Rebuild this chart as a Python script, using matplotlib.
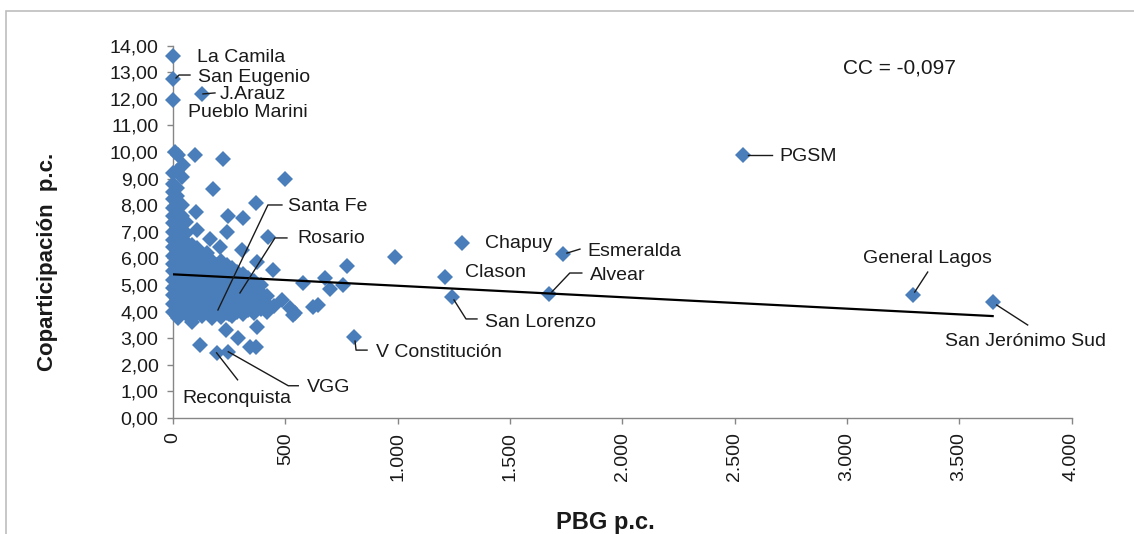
import numpy as np
import matplotlib
matplotlib.use("Agg")
import matplotlib.pyplot as plt
from matplotlib.patches import Rectangle
from matplotlib.ticker import FuncFormatter, MultipleLocator

plt.rcParams['font.family'] = ['Liberation Sans', 'DejaVu Sans']

# Named municipalities: PBG per capita (x) and coparticipación per capita (y)
named = ["La Camila", "San Eugenio", "J.Arauz", "Pueblo Marini", "Santa Fe",
         "Rosario", "Reconquista", "VGG", "V Constitución", "San Lorenzo",
         "Clason", "Chapuy", "Esmeralda", "Alvear", "PGSM", "General Lagos",
         "San Jerónimo Sud"]
named_pbg = [0, 0, 129, 0, 200, 298, 194, 246, 806, 1242, 1210, 1286, 1736,
             1673, 2537, 3293, 3649]
named_copa = [13.60, 12.74, 12.18, 11.95, 4.06, 4.70, 2.45, 2.49, 3.04, 4.55,
              5.30, 6.58, 6.16, 4.66, 9.88, 4.62, 4.36]

# Remaining municipalities, isolated ones first
scatter_pbg = [9, 22, 98, 223, 499, 178, 370, 245, 312, 240, 107, 165, 209,
               307, 423, 102, 45, 40, 989, 775, 677, 579, 699, 757, 445, 374,
               623, 646, 543, 486, 521, 535, 120, 236, 290, 343, 370, 374, 22,
               85, 174, 250]
scatter_copa = [10.00, 9.88, 9.88, 9.73, 8.98, 8.61, 8.08, 7.59, 7.52, 6.99,
                7.07, 6.73, 6.43, 6.31, 6.80, 7.74, 9.51, 9.06, 6.05, 5.71,
                5.26, 5.07, 4.85, 5.00, 5.56, 5.86, 4.17, 4.25, 3.95, 4.43,
                4.13, 3.87, 2.74, 3.31, 3.01, 2.67, 2.67, 3.42, 3.76, 3.61,
                3.76, 3.92]

# Dense core of small municipalities, read strip by strip (PBG, coparticipación values)
core_strips = [
    (0,   [4.00, 4.30, 4.62, 4.90, 5.20, 5.52, 5.80, 6.10, 6.42, 6.70, 7.00,
           7.32, 7.60, 7.90, 8.22, 8.50, 8.80, 9.20]),
    (20,  [3.85, 4.15, 4.45, 4.75, 5.05, 5.35, 5.65, 5.95, 6.25, 6.55, 6.85,
           7.15, 7.45, 7.75, 8.05, 8.35, 8.65, 9.30]),
    (40,  [4.00, 4.30, 4.60, 4.90, 5.20, 5.50, 5.80, 6.10, 6.40, 6.70, 7.00,
           7.30, 7.60, 8.00]),
    (60,  [3.90, 4.20, 4.50, 4.80, 5.10, 5.40, 5.70, 6.00, 6.30, 6.60, 6.95,
           7.35]),
    (85,  [4.05, 4.35, 4.65, 4.95, 5.25, 5.55, 5.85, 6.15, 6.50]),
    (107, [3.95, 4.25, 4.55, 4.85, 5.15, 5.45, 5.75, 6.05, 6.40]),
    (130, [3.85, 4.15, 4.45, 4.75, 5.05, 5.35, 5.65, 5.95]),
    (150, [4.00, 4.30, 4.60, 4.90, 5.20, 5.50, 5.80, 6.20]),
    (174, [4.10, 4.40, 4.70, 5.00, 5.30, 5.60, 5.90]),
    (195, [3.95, 4.25, 4.55, 4.85, 5.15, 5.45, 5.75]),
    (215, [3.80, 4.10, 4.40, 4.70, 5.00, 5.30, 5.60, 5.90]),
    (240, [3.95, 4.25, 4.55, 4.85, 5.15, 5.45, 5.75]),
    (262, [3.85, 4.15, 4.45, 4.75, 5.05, 5.35, 5.65]),
    (285, [4.00, 4.30, 4.60, 4.90, 5.20, 5.50]),
    (310, [3.90, 4.20, 4.50, 4.80, 5.10, 5.40]),
    (335, [4.05, 4.35, 4.65, 4.95, 5.25]),
    (360, [3.95, 4.25, 4.55, 4.85, 5.15]),
    (390, [4.10, 4.40, 4.70, 5.00]),
    (420, [4.00, 4.30, 4.60]),
    (450, [4.20]),
]

# Linear trend and correlation coefficient
trend_intercept = 5.40
trend_slope = -0.00043
cc_value = -0.097

x_ticks = [0, 500, 1000, 1500, 2000, 2500, 3000, 3500, 4000]

# ---------------------------------------------------------------------------
core_pbg = [x for x, ys in core_strips for _ in ys]
core_copa = [y for _, ys in core_strips for y in ys]

all_pbg = np.array(named_pbg + scatter_pbg + core_pbg, dtype=float)
all_copa = np.array(named_copa + scatter_copa + core_copa, dtype=float)

W, H = 1134, 534
fig = plt.figure(figsize=(W / 100, H / 100), dpi=100)
fig.patch.set_facecolor("white")

# outer frame of the chart area
fig.patches.append(Rectangle((6 / W, -0.1), 1.2, 1 - 11 / H + 0.1,
                             transform=fig.transFigure, fill=False,
                             edgecolor="#bdbdbd", linewidth=1.2))

ax = fig.add_axes([173 / W, 1 - 418 / H, 898.5 / W, (418 - 45.5) / H])
ax.set_xlim(0, 4000)
ax.set_ylim(0, 14)

blue = "#4A7EBB"
ax.plot(all_pbg, all_copa, linestyle="none", marker="D", ms=8,
        color=blue, markeredgewidth=0, clip_on=False, zorder=3)

tx = np.array([0, all_pbg.max()])
ax.plot(tx, trend_intercept + trend_slope * tx, color="black", lw=1.6,
        zorder=4)

for s in ("top", "right"):
    ax.spines[s].set_visible(False)
for s in ("left", "bottom"):
    ax.spines[s].set_color("#868686")
    ax.spines[s].set_linewidth(1.0)

ax.set_xticks(x_ticks)
ax.yaxis.set_major_locator(MultipleLocator(1))
ax.xaxis.set_major_formatter(FuncFormatter(lambda v, p: f"{int(round(v)):,}".replace(",", ".")))
ax.yaxis.set_major_formatter(FuncFormatter(lambda v, p: f"{v:.2f}".replace(".", ",")))
ax.tick_params(axis="both", direction="out", length=4.0, width=1.0,
               color="#868686", labelsize=14, labelcolor="#1a1a1a")
ax.tick_params(axis="x", labelrotation=90, pad=6)
ax.tick_params(axis="y", pad=6.5)

# labels: text offset (pixels), alignment, leader polyline (pixel offsets)
label_layout = {
    "La Camila": ((24, -1), "left", None),
    "San Eugenio": ((25, 2), "left", [(3, 1), (6, 4), (17, 4)]),
    "J.Arauz": ((18, -1), "left", [(1, 0), (13, 1)]),
    "Pueblo Marini": ((15, -12), "left", None),
    "Santa Fe": ((70, 103), "left", [(0, 0), (50, 105), (64, 105)]),
    "Rosario": ((57, 54), "left", [(0, 0), (35, 55), (47, 55)]),
    "Reconquista": ((20, -46), "center", [(0, 0), (21, -27)]),
    "VGG": ((79, -36), "left", [(0, 0), (60, -34), (70, -34)]),
    "V Constitución": ((22, -15), "left", [(1, -4), (2, -13), (13, -13)]),
    "San Lorenzo": ((33, -26), "left", [(2, -3), (14, -22), (25, -22)]),
    "Clason": ((20, 4), "left", None),
    "Chapuy": ((23, -1), "left", None),
    "Esmeralda": ((24, 3), "left", [(4, 1), (17, 5)]),
    "Alvear": ((41, 19), "left", [(3, 2), (21, 21), (33, 21)]),
    "PGSM": ((37, -1), "left", [(5, 0), (29, 0)]),
    "General Lagos": ((15, 37), "center", [(2, 3), (15, 23)]),
    "San Jerónimo Sud": ((33, -40), "center", [(4, -3), (35, -23)]),
}

inv = ax.transData.inverted()
for name, px, py in zip(named, named_pbg, named_copa):
    offset, ha, leader = label_layout[name]
    base = ax.transData.transform((px, py))
    if leader:
        verts = inv.transform(np.array(leader, dtype=float) + base)
        ax.plot(verts[:, 0], verts[:, 1], color="#1a1a1a", lw=1.0,
                clip_on=False, zorder=5)
    ax.annotate(name, (px, py), xytext=offset, textcoords="offset pixels",
                ha=ha, va="center", fontsize=14, color="#1a1a1a", zorder=6)

ax.text(843 / W, 1 - 68 / H, f"CC = {cc_value:.3f}".replace(".", ","),
        transform=fig.transFigure, ha="left", va="center", fontsize=15,
        color="#1a1a1a")

fig.text(48 / W, 1 - 262 / H, "Coparticipación  p.c.", rotation=90,
         ha="center", va="center", fontsize=16, fontweight="bold",
         color="#1a1a1a")
fig.text(605 / W, 1 - 522 / H, "PBG p.c.", ha="center", va="center",
         fontsize=17, fontweight="bold", color="#1a1a1a")

fig.savefig("out.png", dpi=100, facecolor="white")
